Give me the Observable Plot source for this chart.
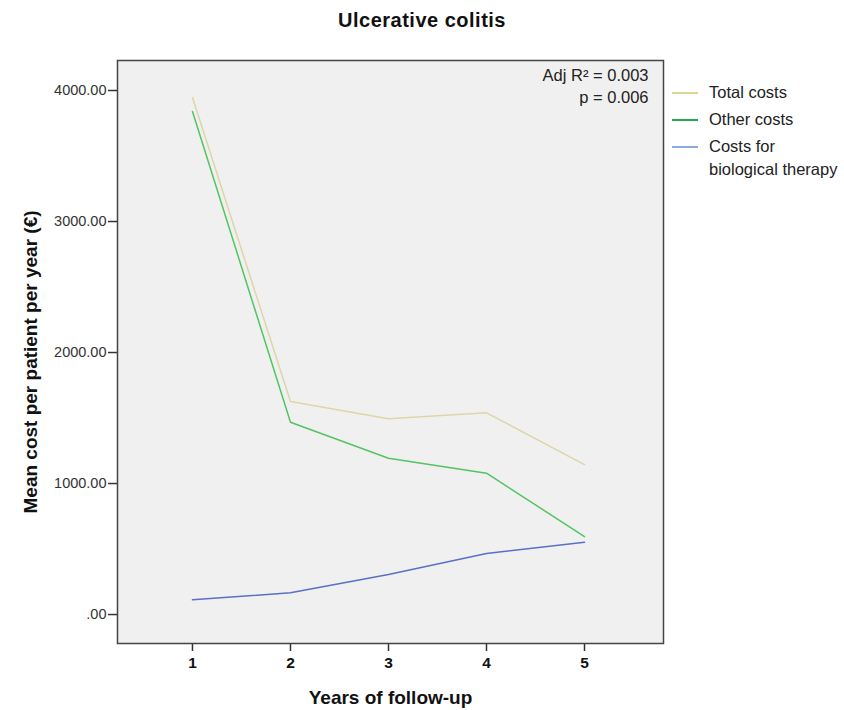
<!DOCTYPE html>
<html>
<head>
<meta charset="utf-8">
<script src="https://cdn.jsdelivr.net/npm/d3@7"></script>
<script src="https://cdn.jsdelivr.net/npm/@observablehq/plot@0.6"></script>
<style>
  body { margin: 0; background: #fff; font-family: "Liberation Sans", Arial, sans-serif; }
  #wrap { position: relative; width: 844px; height: 710px; }
  #title { position: absolute; left: 0; width: 844px; top: 8px; line-height: 24px; text-align: center; font-weight: bold; font-size: 20px; letter-spacing: 0.5px; color: #111; }
  #legend { position: absolute; left: 672px; top: 81px; font-size: 16.5px; color: #222; }
  .item { position: relative; padding-left: 37px; line-height: 23px; margin-bottom: 4px; white-space: nowrap; }
  .sw { position: absolute; left: 0; top: 11px; width: 26px; height: 2px; }
</style>
</head>
<body>
<div id="wrap">
  <div id="title">Ulcerative colitis</div>
  <div id="legend"></div>
</div>
<script>
const years = [1, 2, 3, 4, 5];
const totalCosts = [3947, 1626, 1494, 1540, 1145];
const otherCosts = [3840, 1468, 1193, 1079, 595];
const bioCosts = [112, 166, 305, 466, 552];
const seriesNames = ["Total costs", "Other costs", "Costs for biological therapy"];
const legendLabels = ["Total costs", "Other costs", "Costs for<br>biological therapy"];
const lineColors = ["#ded5a8", "#52c462", "#5a6fc6"];
const legendColors = ["#ddd68f", "#1fab4d", "#8eaae2"];
const yTicks = [0, 1000, 2000, 3000, 4000];
const annotation = ["Adj R\u00B2 = 0.003", "p = 0.006"];

const rows = [];
[totalCosts, otherCosts, bioCosts].forEach((vals, i) => {
  years.forEach((yr, j) => rows.push({series: seriesNames[i], year: yr, value: vals[j]}));
});

const chart = Plot.plot({
  width: 844,
  height: 710,
  marginLeft: 117,
  marginRight: 181,
  marginTop: 60,
  marginBottom: 67,
  style: {fontFamily: "'Liberation Sans', Arial, sans-serif", background: "transparent"},
  x: {domain: [0.235, 5.806]},
  y: {domain: [-221, 4229]},
  color: {domain: seriesNames, range: lineColors},
  marks: [
    Plot.frame({fill: "#f0f0f0", stroke: "none"}),
    Plot.axisX({ticks: years, tickSize: 8, tickPadding: 5, fontSize: 15.5, fontWeight: "bold", label: null, stroke: "#333", strokeWidth: 1.5, fill: "#111", tickFormat: d => String(d)}),
    Plot.axisY({ticks: yTicks, tickSize: 9, tickPadding: 2, fontSize: 14.5, label: null, stroke: "#333", strokeWidth: 1.5, fill: "#333", tickFormat: d => d === 0 ? ".00" : d.toFixed(2)}),
    Plot.line(rows, {x: "year", y: "value", z: "series", stroke: "series", strokeWidth: 1.5}),
    Plot.frame({stroke: "#444", strokeWidth: 1.5}),
    Plot.text([annotation[0]], {frameAnchor: "top-right", dx: -15, dy: 15, lineAnchor: "middle", fontSize: 16.5, fill: "#222", textAnchor: "end"}),
    Plot.text([annotation[1]], {frameAnchor: "top-right", dx: -15, dy: 37, lineAnchor: "middle", fontSize: 16.5, fill: "#222", textAnchor: "end"}),
    Plot.text(["Years of follow-up"], {frameAnchor: "bottom", dy: 54, lineAnchor: "middle", fontSize: 19, fontWeight: "bold", fill: "#111"}),
    Plot.text(["Mean cost per patient per year (\u20AC)"], {frameAnchor: "left", dx: -87, dy: 10, rotate: -90, textAnchor: "middle", lineAnchor: "middle", fontSize: 19, fontWeight: "bold", fill: "#111"})
  ]
});
document.getElementById("wrap").prepend(chart);

const legend = document.getElementById("legend");
legendLabels.forEach((lab, i) => {
  const d = document.createElement("div");
  d.className = "item";
  d.innerHTML = `<span class="sw" style="background:${legendColors[i]}"></span>${lab}`;
  legend.appendChild(d);
});
</script>
</body>
</html>
